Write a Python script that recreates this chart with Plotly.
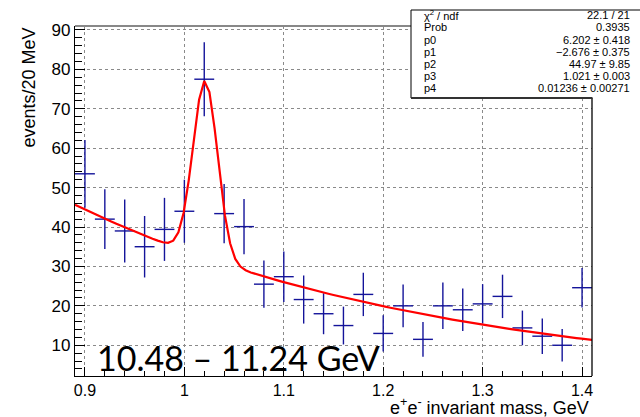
import numpy as np
import plotly.graph_objects as go

# ---- data ----
mass = [0.90, 0.92, 0.94, 0.96, 0.98, 1.00, 1.02, 1.04, 1.06, 1.08, 1.10, 1.12, 1.14,
        1.16, 1.18, 1.20, 1.22, 1.24, 1.26, 1.28, 1.30, 1.32, 1.34, 1.36, 1.38, 1.40]
events = [53.5, 42.0, 39.0, 35.0, 39.4, 44.0, 77.5, 43.4, 40.1, 25.5, 27.4, 21.6, 18.0,
          15.0, 22.9, 13.0, 20.0, 11.5, 20.0, 19.0, 20.5, 22.4, 14.4, 12.3, 10.0, 24.6]
errors = [8.6, 7.6, 8.0, 7.8, 8.0, 8.0, 9.4, 7.5, 7.0, 6.0, 6.4, 6.1, 5.2,
          4.8, 5.5, 4.6, 5.4, 4.4, 5.9, 5.4, 5.0, 5.5, 4.4, 4.5, 4.1, 5.0]
bin_half_width = 0.01

# fit parameters shown in the stats box
p0, p1, p2, p3, p4 = 6.202, -2.676, 44.97, 1.021, 0.01236
fit_range = [0.89, 1.41]
fit_npx = 100

stat_names = ["\u03c7<sup>2</sup> / ndf", "Prob", "p0", "p1", "p2", "p3", "p4"]
stat_values = ["22.1 / 21", "0.3935", "6.202 \u00b1 0.418", "\u22122.676 \u00b1 0.375",
               "44.97 \u00b1 9.85", "1.021 \u00b1 0.003", "0.01236 \u00b1 0.00271"]

x_ticks = [0.9, 1.0, 1.1, 1.2, 1.3, 1.4]
x_tick_text = ["0.9", "1", "1.1", "1.2", "1.3", "1.4"]
y_ticks = [10, 20, 30, 40, 50, 60, 70, 80, 90]

# ---- fit curve from the displayed parameters (ROOT draws npx points) ----
xf = np.linspace(fit_range[0], fit_range[1], fit_npx + 1)
yf = np.exp(p0 + p1 * xf) + p2 * np.exp(-0.5 * ((xf - p3) / p4) ** 2)

FONT = "Liberation Sans, Arial, Helvetica, sans-serif"
BLUE = "#14149a"

fig = go.Figure()
fig.add_trace(go.Scatter(
    x=mass, y=events, mode="markers",
    marker=dict(size=1, color=BLUE),
    error_x=dict(type="constant", value=bin_half_width, width=0, thickness=1.4, color=BLUE),
    error_y=dict(type="data", array=errors, width=0, thickness=1.4, color=BLUE),
    showlegend=False, hoverinfo="x+y"))
fig.add_trace(go.Scatter(
    x=xf, y=yf, mode="lines", line=dict(color="#ff0000", width=2.2),
    showlegend=False))

L, R, T, B = 75, 48, 26, 41
W, H = 640, 417
pw, ph = W - L - R, H - T - B


def px(xp):
    return (xp - L) / pw


def py(yp):
    return (H - B - yp) / ph


fig.update_layout(
    width=W, height=H,
    margin=dict(l=L, r=R, t=T, b=B, pad=0),
    paper_bgcolor="white", plot_bgcolor="white",
    font=dict(family=FONT, color="black"),
    xaxis=dict(range=[0.89, 1.41], tickvals=x_ticks, ticktext=x_tick_text,
               ticks="inside", ticklen=9, tickwidth=1, tickcolor="black",
               minor=dict(dtick=0.02, tick0=0.9, ticks="inside", ticklen=5,
                          tickwidth=1, tickcolor="black", showgrid=False),
               showgrid=True, gridcolor="#8a8a8a", griddash="dot", gridwidth=1,
               showline=True, linecolor="black", linewidth=1.3,
               zeroline=False, tickfont=dict(size=16, family=FONT)),
    yaxis=dict(range=[2.2, 91.0], tickvals=y_ticks,
               ticks="inside", ticklen=10, tickwidth=1, tickcolor="black",
               minor=dict(dtick=2, tick0=0, ticks="inside", ticklen=7,
                          tickwidth=1, tickcolor="black", showgrid=False),
               showgrid=True, gridcolor="#8a8a8a", griddash="dot", gridwidth=1,
               showline=True, linecolor="black", linewidth=1.3,
               zeroline=False, tickfont=dict(size=17, family=FONT)),
)

shapes = []
# top and right frame
shapes.append(dict(type="line", xref="paper", yref="paper", x0=0, x1=1, y0=1, y1=1,
                   line=dict(color="#888888", width=2)))
shapes.append(dict(type="line", xref="paper", yref="paper", x0=1, x1=1, y0=0, y1=1,
                   line=dict(color="black", width=1.3)))
# white box behind the energy label
shapes.append(dict(type="rect", xref="paper", yref="paper", layer="between",
                   x0=px(90), x1=px(380), y0=py(372), y1=py(345),
                   fillcolor="white", line=dict(width=0)))
# stats box
shapes.append(dict(type="rect", xref="paper", yref="paper", layer="above",
                   x0=px(411), x1=px(641), y0=py(98), y1=py(10),
                   fillcolor="white", line=dict(width=0)))
shapes.append(dict(type="line", xref="paper", yref="paper", layer="above",
                   x0=px(411), x1=px(411), y0=py(98), y1=py(10),
                   line=dict(color="black", width=1)))
shapes.append(dict(type="line", xref="paper", yref="paper", layer="above",
                   x0=px(411), x1=px(641), y0=py(10), y1=py(10),
                   line=dict(color="black", width=1)))
shapes.append(dict(type="line", xref="paper", yref="paper", layer="above",
                   x0=px(411), x1=px(592.5), y0=py(98), y1=py(98),
                   line=dict(color="#333333", width=2)))
fig.update_layout(shapes=shapes)

ann = []
row_y0, row_dy = 15.3, 12.17
for i, (n, v) in enumerate(zip(stat_names, stat_values)):
    yy = py(row_y0 + i * row_dy)
    ann.append(dict(text=n, xref="paper", yref="paper", x=px(422), y=yy,
                    xanchor="left", yanchor="middle", showarrow=False,
                    font=dict(size=11, family=FONT, color="black")))
    ann.append(dict(text=v, xref="paper", yref="paper", x=px(632), y=yy,
                    xanchor="right", yanchor="middle", showarrow=False,
                    font=dict(size=11, family=FONT, color="black")))

ann.append(dict(text="events/20 MeV", xref="paper", yref="paper",
                x=px(28), y=py(87.5), textangle=-90, xanchor="center", yanchor="middle",
                showarrow=False, font=dict(size=18, family=FONT, color="black")))
ann.append(dict(text="e<sup>+</sup>e<sup>-</sup> invariant mass, GeV", xref="paper", yref="paper",
                x=px(591), y=py(406.5), xanchor="right", yanchor="middle",
                showarrow=False, font=dict(size=18, family=FONT, color="black")))
ann.append(dict(text="10.48 \u2013 11.24 GeV", xref="paper", yref="paper",
                x=px(238), y=py(357), xanchor="center", yanchor="middle",
                showarrow=False, font=dict(size=34, family="Lato, sans-serif", color="black")))
fig.update_layout(annotations=ann)

fig.write_html("out.html", config={"displayModeBar": False},
               post_script="document.body.style.margin='0';document.body.style.overflow='hidden';")
